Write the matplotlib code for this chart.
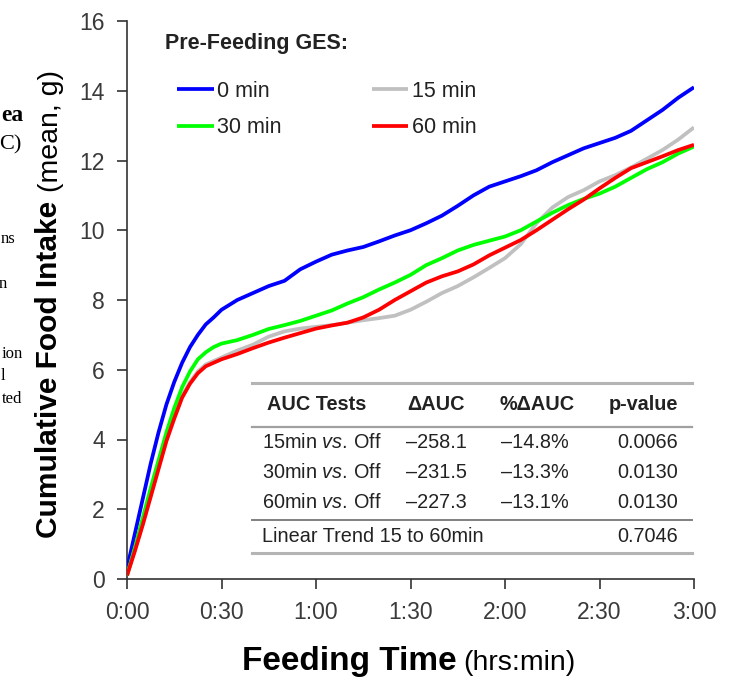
import matplotlib
matplotlib.use("Agg")
import matplotlib.pyplot as plt
from matplotlib.lines import Line2D

plt.rcParams['font.family'] = ['Liberation Sans', 'DejaVu Sans']
plt.rcParams['mathtext.fontset'] = 'custom'
plt.rcParams['mathtext.rm'] = 'Liberation Sans'
plt.rcParams['mathtext.it'] = 'Liberation Sans:italic'

W, H, DPI = 736, 678, 100

# ---------------- data ----------------
minutes = [0, 2.5, 5, 7.5, 10, 12.5, 15, 17.5, 20, 22.5, 25, 27.5, 30,
           35, 40, 45, 50, 55, 60, 65, 70, 75, 80, 85, 90, 95, 100, 105, 110,
           115, 120, 125, 130, 135, 140, 145, 150, 155, 160, 165, 170, 175, 180]
ges_0 = [0.3, 1.3, 2.3, 3.3, 4.2, 5.0, 5.65, 6.2, 6.65, 7.0, 7.3, 7.5, 7.72,
         8.0, 8.2, 8.4, 8.55, 8.88, 9.1, 9.3, 9.42, 9.52, 9.68, 9.85, 10.0,
         10.2, 10.42, 10.7, 11.0, 11.25, 11.4, 11.55, 11.72, 11.95, 12.15,
         12.35, 12.5, 12.65, 12.85, 13.15, 13.45, 13.8, 14.1]
ges_15 = [0.1, 0.85, 1.6, 2.4, 3.2, 4.0, 4.65, 5.25, 5.65, 5.95, 6.15, 6.25,
          6.35, 6.55, 6.72, 6.95, 7.1, 7.18, 7.23, 7.28, 7.35, 7.42, 7.48,
          7.55, 7.72, 7.95, 8.2, 8.4, 8.65, 8.92, 9.2, 9.6, 10.2, 10.65,
          10.95, 11.15, 11.4, 11.58, 11.8, 12.05, 12.3, 12.6, 12.95]
ges_30 = [0.1, 0.9, 1.75, 2.6, 3.4, 4.2, 4.9, 5.5, 5.95, 6.3, 6.5, 6.65, 6.75,
          6.85, 7.0, 7.17, 7.28, 7.4, 7.55, 7.7, 7.9, 8.08, 8.3, 8.5, 8.72,
          9.0, 9.2, 9.42, 9.58, 9.7, 9.82, 10.0, 10.25, 10.5, 10.72, 10.9,
          11.05, 11.25, 11.5, 11.75, 11.95, 12.2, 12.4]
ges_60 = [0.1, 0.8, 1.55, 2.35, 3.15, 3.95, 4.6, 5.2, 5.6, 5.9, 6.1, 6.2, 6.3,
          6.45, 6.62, 6.78, 6.92, 7.05, 7.18, 7.27, 7.35, 7.5, 7.72, 8.0,
          8.25, 8.5, 8.68, 8.82, 9.02, 9.28, 9.5, 9.72, 10.0, 10.3, 10.6,
          10.88, 11.2, 11.5, 11.78, 11.95, 12.12, 12.3, 12.45]
series_labels = ["0 min", "15 min", "30 min", "60 min"]
series_colors = ["#0000FF", "#C0C0C0", "#00FF00", "#FF0000"]

x_ticks = [0, 30, 60, 90, 120, 150, 180]
x_tick_labels = ["0:00", "0:30", "1:00", "1:30", "2:00", "2:30", "3:00"]
y_ticks = [0, 2, 4, 6, 8, 10, 12, 14, 16]

table_header = ["AUC Tests", "\u0394AUC", "%\u0394AUC", "p-value"]
table_tests = ["15min", "30min", "60min"]
table_dauc = ["\u2013258.1", "\u2013231.5", "\u2013227.3"]
table_pct = ["\u201314.8%", "\u201313.3%", "\u201313.1%"]
table_p = ["0.0066", "0.0130", "0.0130"]
trend_label = "Linear Trend 15 to 60min"
trend_p = "0.7046"

side_fragments = [("ea", 23, 121, 17, 'bold'), ("C)", 22, 149, 16, 'normal'),
                  ("ns", 15, 243, 12, 'normal'), ("n", 7, 288, 12, 'normal'),
                  ("ion", 23, 358, 12, 'normal'), ("l", 5, 380, 12, 'normal'),
                  ("ted", 22, 403, 12, 'normal')]

# ---------------- helpers ----------------
def fx(px):
    return px / W

def fy(py):
    return 1 - py / H

TXT = "#222222"
TFS = 14.3

fig = plt.figure(figsize=(W / DPI, H / DPI), dpi=DPI)
ax = fig.add_axes([fx(127), fy(579), fx(694) - fx(127), fy(21) - fy(579)])

series = [ges_0, ges_15, ges_30, ges_60]
lines = []
for i, (vals, lab, col) in enumerate(zip(series, series_labels, series_colors)):
    ln, = ax.plot(minutes, vals, color=col, lw=2.7, label=lab, zorder=3 + i * 0.1,
                  solid_capstyle='butt', solid_joinstyle='round')
    lines.append(ln)

ax.set_xlim(0, 180)
ax.set_ylim(0, 16)
ax.set_xticks(x_ticks)
ax.set_xticklabels(x_tick_labels)
ax.set_yticks(y_ticks)
for s in ['top', 'right']:
    ax.spines[s].set_visible(False)
for s in ['left', 'bottom']:
    ax.spines[s].set_color('#333333')
    ax.spines[s].set_linewidth(1.2)
ax.tick_params(axis='both', direction='out', length=7, width=1.2, color='#333333',
               labelsize=16.5, labelcolor='#3a3a3a')
ax.tick_params(axis='y', pad=9)
ax.tick_params(axis='x', pad=9)
ax.margins(0)

# legend
fig.text(fx(165), fy(44), "Pre-Feeding GES:", fontsize=15.5, fontweight='bold',
         color=TXT, ha='left', va='center')
leg = ax.legend([lines[0], lines[2], lines[1], lines[3]],
                [series_labels[0], series_labels[2], series_labels[1], series_labels[3]],
                ncol=2, frameon=False, fontsize=15.5, loc='upper left',
                bbox_to_anchor=(fx(177), fy(81)), bbox_transform=fig.transFigure,
                borderpad=0, borderaxespad=0, handlelength=1.7, handletextpad=0.15,
                columnspacing=4.2, labelspacing=0.7)
for t in leg.get_texts():
    t.set_color(TXT)

# table
tx_lines = [(383, '#b4b4b4', 2.2), (427, '#a0a0a0', 1.6), (520, '#808080', 1.4),
            (553, '#b4b4b4', 2.2)]
for (yy, col, lw) in tx_lines:
    fig.add_artist(Line2D([fx(252), fx(692)], [fy(yy), fy(yy)], color=col, lw=lw,
                          transform=fig.transFigure))
hdr_x = [267, 407, 500, 678]
hdr_ha = ['left', 'left', 'left', 'right']
for h, xx, ha in zip(table_header, hdr_x, hdr_ha):
    fig.text(fx(xx), fy(404), h, fontsize=TFS, fontweight='bold', color=TXT,
             ha=ha, va='center')
row_y = [443, 473, 503]
for i in range(3):
    fig.text(fx(262), fy(row_y[i]), table_tests[i] + r" $\mathit{vs.}\,$Off",
             fontsize=TFS, color=TXT, ha='left', va='center')
    fig.text(fx(406), fy(row_y[i]), table_dauc[i], fontsize=TFS, color=TXT,
             ha='left', va='center')
    fig.text(fx(501), fy(row_y[i]), table_pct[i], fontsize=TFS, color=TXT,
             ha='left', va='center')
    fig.text(fx(678), fy(row_y[i]), table_p[i], fontsize=TFS, color=TXT,
             ha='right', va='center')
fig.text(fx(262), fy(537), trend_label, fontsize=TFS, color=TXT, ha='left',
         va='center')
fig.text(fx(678), fy(537), trend_p, fontsize=TFS, color=TXT, ha='right',
         va='center')

# axis labels (bold + regular parts)
renderer = fig.canvas.get_renderer()
yl1 = fig.text(fx(57), fy(538), "Cumulative Food Intake", fontsize=21.5,
               fontweight='bold', color='black', rotation=90,
               rotation_mode='anchor', ha='left', va='baseline')
bb = yl1.get_window_extent(renderer)
top_px = H - bb.y1
fig.text(fx(58), fy(top_px - 9), "(mean, g)", fontsize=20.5, color='black',
         rotation=90, rotation_mode='anchor', ha='left', va='baseline')

xl1 = fig.text(fx(242), fy(670), "Feeding Time", fontsize=24, fontweight='bold',
               color='black', ha='left', va='baseline')
bb = xl1.get_window_extent(renderer)
fig.text(fx(bb.x1 + 7), fy(670), "(hrs:min)", fontsize=20.5, color='black',
         ha='left', va='baseline')

# cropped neighbouring text at left edge
for (txt, xr, yb, fs, fw) in side_fragments:
    fig.text(fx(xr), fy(yb), txt, fontsize=fs, fontweight=fw, color='black',
             family=['Liberation Serif', 'DejaVu Serif'], ha='right', va='baseline')

fig.savefig("out.png", dpi=DPI)
